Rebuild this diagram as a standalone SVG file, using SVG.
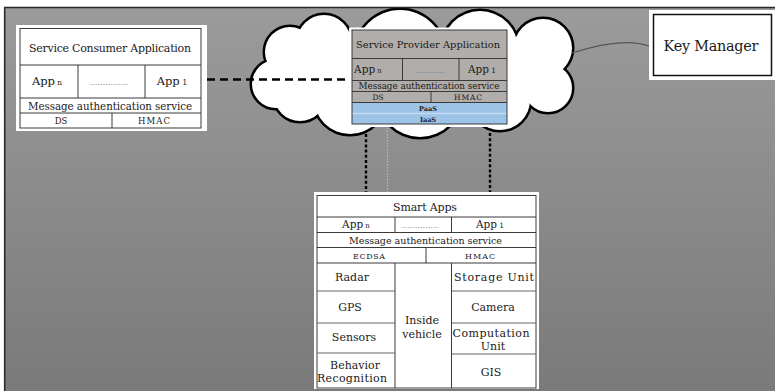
<svg xmlns="http://www.w3.org/2000/svg" width="775" height="391" viewBox="0 0 775 391">
<defs>
<linearGradient id="bg" x1="0" y1="0" x2="0" y2="1">
<stop offset="0" stop-color="#9b9b9b"/>
<stop offset="1" stop-color="#7a7a7a"/>
</linearGradient>
</defs>
<style>
text{font-family:"DejaVu Serif","Liberation Serif",serif;fill:#1a1a1a;text-anchor:middle}
.grid{fill:none;stroke:#3a3a3a;stroke-width:1}
.lite{fill:none;stroke:#666;stroke-width:1}
.dash{fill:none;stroke:#000;stroke-width:2.5;stroke-dasharray:8 5}
.vdash{fill:none;stroke:#000;stroke-width:2.4;stroke-dasharray:3 2.2}
.cs{fill:none;stroke:#000;stroke-width:5}
.cf{fill:#fff;stroke:none}
.dots{fill:#555}
</style>
<rect x="0" y="0" width="775" height="391" fill="#fff"/>
<rect x="5" y="8" width="770" height="383" fill="url(#bg)"/>

<g id="cloud">
<g class="cs">
<circle cx="276" cy="84" r="24"/>
<circle cx="290" cy="52" r="25"/>
<circle cx="324" cy="42" r="27"/>
<circle cx="400" cy="55" r="45"/>
<circle cx="480" cy="49" r="38"/>
<circle cx="543" cy="48" r="29"/>
<circle cx="548" cy="88" r="24"/>
<circle cx="500" cy="100" r="30"/>
<circle cx="420" cy="95" r="42"/>
<circle cx="350" cy="98" r="36"/>
<circle cx="300" cy="95" r="26"/>
</g>
<g class="cf">
<circle cx="276" cy="84" r="24"/>
<circle cx="290" cy="52" r="25"/>
<circle cx="324" cy="42" r="27"/>
<circle cx="400" cy="55" r="45"/>
<circle cx="480" cy="49" r="38"/>
<circle cx="543" cy="48" r="29"/>
<circle cx="548" cy="88" r="24"/>
<circle cx="500" cy="100" r="30"/>
<circle cx="420" cy="95" r="42"/>
<circle cx="350" cy="98" r="36"/>
<circle cx="300" cy="95" r="26"/>
<ellipse cx="410" cy="74" rx="135" ry="45"/>
</g>
</g>

<path d="M4 7.5H775M4.7 7V391" fill="none" stroke="#2a2a2a" stroke-width="1.6"/>

<g id="connectors">
<path class="dash" d="M207 79.5H349"/>
<path class="vdash" d="M366 134V197"/>
<path class="vdash" d="M490 133V194"/>
<path d="M387.5 128V205" fill="none" stroke="#b8b8b8" stroke-width="1.2" stroke-dasharray="1.5 1.5"/>
<path d="M572 53Q623 36.5 649 46" fill="none" stroke="#555" stroke-width="1.2"/>
</g>

<g id="consumer">
<rect x="16" y="25" width="191" height="106" fill="#fff"/>
<rect class="grid" x="20" y="28.5" width="181" height="99.5"/>
<path class="grid" d="M20 65H201M20 98H201M20 113H201M78 65V98M145 65V98M112 113V128"/>
<text x="110" y="52" font-size="11" textLength="162">Service Consumer Application</text>
<text x="47" y="85" font-size="11.5">App<tspan font-size="7.5"> n</tspan></text>
<text class="dots" x="109" y="85" font-size="7" textLength="38">...............</text>
<text x="172" y="85" font-size="11.5">App<tspan font-size="8"> 1</tspan></text>
<text x="110" y="110" font-size="10.3" textLength="164">Message authentication service</text>
<text x="61" y="123.5" font-size="8.5">DS</text>
<text x="154" y="123.5" font-size="8.5" textLength="32">HMAC</text>
</g>

<g id="provider">
<rect x="349" y="27.5" width="161" height="99.5" fill="#fff"/>
<rect x="352" y="30" width="155" height="73" fill="#b1adaa"/>
<rect x="352" y="103" width="155" height="21" fill="#9dc3e6"/>
<path d="M352 113.5H507" stroke="#c4dcf1" stroke-width="1.5"/>
<rect class="grid" x="352" y="30" width="155" height="94"/>
<path class="grid" d="M352 58.5H507M352 80.5H507M352 91.5H507M352 102.5H507M402.5 58.5V80.5M459 58.5V80.5M431 91.5V102.5"/>
<text x="428" y="48" font-size="9.9" textLength="144">Service Provider Application</text>
<text x="368" y="72.5" font-size="10.5">App<tspan font-size="7"> n</tspan></text>
<text class="dots" x="431" y="72.5" font-size="6" textLength="28">..............</text>
<text x="482" y="72.5" font-size="10.5">App<tspan font-size="7.5"> 1</tspan></text>
<text x="429" y="89" font-size="8.8" textLength="141">Message authentication service</text>
<text x="378" y="100" font-size="7.5">DS</text>
<text x="468" y="100" font-size="7.5" textLength="28">HMAC</text>
<text x="428" y="111" font-size="6.5" font-weight="bold">PaaS</text>
<text x="428" y="121.5" font-size="6.5" font-weight="bold">IaaS</text>
</g>

<g id="keymanager">
<rect x="649" y="10" width="126" height="70" fill="#fff"/>
<rect x="653.5" y="14.5" width="118" height="61" fill="none" stroke="#111" stroke-width="1.5"/>
<text x="711" y="50.5" font-size="14.4" textLength="95">Key Manager</text>
</g>

<g id="smartapps">
<rect x="314" y="192" width="225" height="197" fill="#fff"/>
<rect class="grid" x="317" y="195.5" width="219" height="192.5"/>
<path class="grid" d="M317 217H536M317 232.5H536M317 247.5H536M317 263H536M395 217V232.5M451.5 217V232.5M426 247.5V263M395 263V388M451.5 263V388"/>
<path class="lite" d="M317 291H395M317 323H395M317 353H395M451.5 291H536M451.5 323H536M451.5 354H536"/>
<text x="425" y="210.5" font-size="11" textLength="64">Smart Apps</text>
<text x="356" y="228" font-size="10.5">App<tspan font-size="7"> n</tspan></text>
<text class="dots" x="420" y="228" font-size="7" textLength="36">..............</text>
<text x="490" y="228" font-size="10.5">App<tspan font-size="7.5"> 1</tspan></text>
<text x="425.5" y="243.5" font-size="9.6" textLength="153">Message authentication service</text>
<text x="369" y="258.5" font-size="8" textLength="32">ECDSA</text>
<text x="480" y="258.5" font-size="8" textLength="30">HMAC</text>
<text x="352" y="280.5" font-size="11">Radar</text>
<text x="350" y="310.5" font-size="11">GPS</text>
<text x="354" y="341" font-size="11">Sensors</text>
<text x="355" y="368.5" font-size="11">Behavior</text>
<text x="352" y="382" font-size="11" textLength="70">Recognition</text>
<text x="422" y="324" font-size="11">Inside</text>
<text x="422" y="337.5" font-size="11">vehicle</text>
<text x="494" y="280.5" font-size="11" textLength="80">Storage Unit</text>
<text x="493" y="310.5" font-size="11">Camera</text>
<text x="491" y="337" font-size="11" textLength="77">Computation</text>
<text x="493" y="350" font-size="11">Unit</text>
<text x="491" y="375.5" font-size="11">GIS</text>
</g>
</svg>
